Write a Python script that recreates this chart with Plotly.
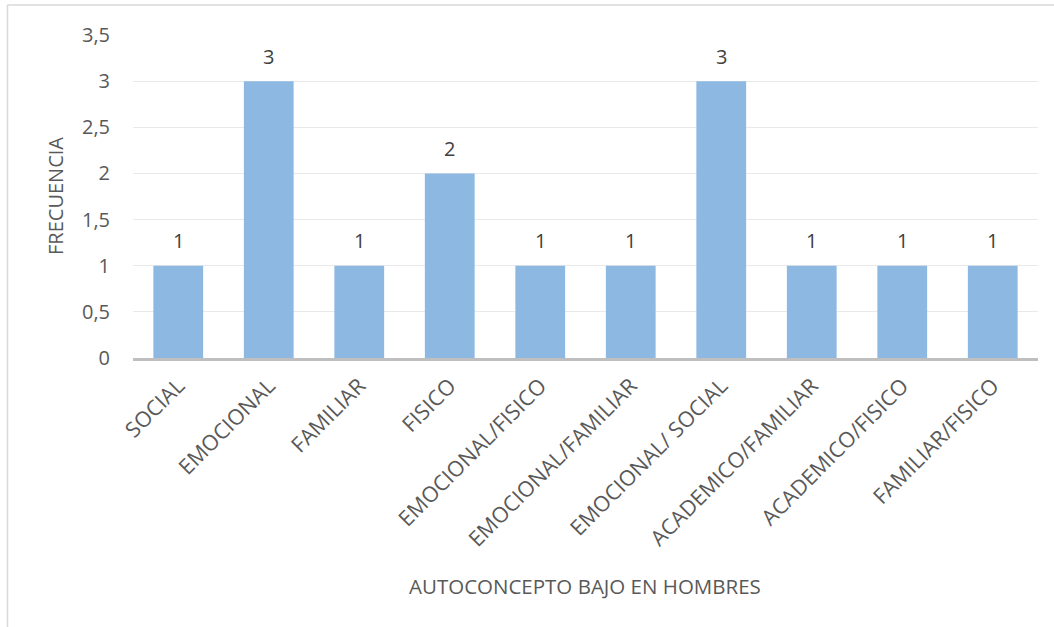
import plotly.graph_objects as go

categories = ["SOCIAL", "EMOCIONAL", "FAMILIAR", "FISICO", "EMOCIONAL/FISICO",
              "EMOCIONAL/FAMILIAR", "EMOCIONAL/ SOCIAL", "ACADEMICO/FAMILIAR",
              "ACADEMICO/FISICO", "FAMILIAR/FISICO"]
values = [1, 3, 1, 2, 1, 1, 3, 1, 1, 1]
y_ticks = [0, 0.5, 1, 1.5, 2, 2.5, 3, 3.5]
y_tick_labels = ["0", "0,5", "1", "1,5", "2", "2,5", "3", "3,5"]

W, H = 1054, 627
L, R, T, B = 133, 16, 35, 269
pw, ph = W - L - R, H - T - B

font_family = "Open Sans, Liberation Sans, sans-serif"
txt_color = "#595959"

fig = go.Figure(go.Bar(
    x=categories, y=values,
    marker=dict(color="#8DB8E2", line=dict(width=0)),
    hoverinfo="x+y",
))

annotations = [
    dict(x=c, y=v, xref="x", yref="y", text=str(v), showarrow=False,
         yshift=25, yanchor="middle", xanchor="center",
         font=dict(size=20, color="#404040"))
    for c, v in zip(categories, values)
]
annotations += [
    dict(text="AUTOCONCEPTO BAJO EN HOMBRES", xref="paper", yref="paper",
         x=(585 - L) / pw, y=(H - B - 586) / ph, showarrow=False,
         font=dict(size=20.5, color=txt_color), xanchor="center", yanchor="middle"),
    dict(text="FRECUENCIA", xref="paper", yref="paper",
         x=(55 - L) / pw, y=(H - B - 196) / ph, showarrow=False, textangle=-90,
         font=dict(size=20, color=txt_color), xanchor="center", yanchor="middle"),
]

fig.update_layout(
    width=W, height=H,
    margin=dict(l=L, r=R, t=T, b=B),
    paper_bgcolor="white", plot_bgcolor="white",
    bargap=0.45,
    showlegend=False,
    font=dict(family=font_family, color=txt_color, size=20),
    xaxis=dict(
        tickangle=-45, tickfont=dict(size=21.5, color=txt_color),
        showline=True, linecolor="#BFBFBF", linewidth=2.5,
        showgrid=False, ticks="", zeroline=False, ticklabelstandoff=4,
    ),
    yaxis=dict(
        range=[0, 3.5], tickvals=y_ticks, ticktext=y_tick_labels,
        tickfont=dict(size=20, color=txt_color),
        showgrid=True, gridcolor="#E9E9E9", gridwidth=1.2,
        zeroline=False, showline=False, ticks="", ticklabelstandoff=22,
    ),
    annotations=annotations,
    shapes=[
        dict(type="line", xref="paper", yref="paper",
             x0=(7.5 - L) / pw, x1=(7.5 - L) / pw, y0=(H - B - 5) / ph, y1=(H - B - 627) / ph,
             line=dict(color="#D9D9D9", width=1.5)),
        dict(type="line", xref="paper", yref="paper",
             x0=(7.5 - L) / pw, x1=(1054 - L) / pw, y0=(H - B - 5) / ph, y1=(H - B - 5) / ph,
             line=dict(color="#D9D9D9", width=1.5)),
    ],
)

fig.write_html("out.html")
